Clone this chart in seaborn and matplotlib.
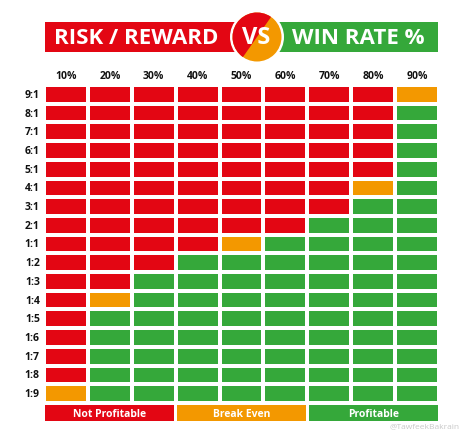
import numpy as np
import pandas as pd
import seaborn as sns
import matplotlib.pyplot as plt
from matplotlib.colors import ListedColormap
from matplotlib.patches import Rectangle, Circle, Wedge

# 0 = not profitable, 1 = break even, 2 = profitable
win_rates = ["10%", "20%", "30%", "40%", "50%", "60%", "70%", "80%", "90%"]
ratios = ["9:1", "8:1", "7:1", "6:1", "5:1", "4:1", "3:1", "2:1", "1:1",
          "1:2", "1:3", "1:4", "1:5", "1:6", "1:7", "1:8", "1:9"]
outcome = [
    [0, 0, 0, 0, 0, 0, 0, 0, 1],
    [0, 0, 0, 0, 0, 0, 0, 0, 2],
    [0, 0, 0, 0, 0, 0, 0, 0, 2],
    [0, 0, 0, 0, 0, 0, 0, 0, 2],
    [0, 0, 0, 0, 0, 0, 0, 0, 2],
    [0, 0, 0, 0, 0, 0, 0, 1, 2],
    [0, 0, 0, 0, 0, 0, 0, 2, 2],
    [0, 0, 0, 0, 0, 0, 2, 2, 2],
    [0, 0, 0, 0, 1, 2, 2, 2, 2],
    [0, 0, 0, 2, 2, 2, 2, 2, 2],
    [0, 0, 2, 2, 2, 2, 2, 2, 2],
    [0, 1, 2, 2, 2, 2, 2, 2, 2],
    [0, 2, 2, 2, 2, 2, 2, 2, 2],
    [0, 2, 2, 2, 2, 2, 2, 2, 2],
    [0, 2, 2, 2, 2, 2, 2, 2, 2],
    [0, 2, 2, 2, 2, 2, 2, 2, 2],
    [1, 2, 2, 2, 2, 2, 2, 2, 2],
]
legend_labels = ["Not Profitable", "Break Even", "Profitable"]

RED, ORANGE, GREEN = "#e30613", "#f39800", "#35a83a"
cmap = ListedColormap([RED, ORANGE, GREEN])

W, H = 464, 431
fig = plt.figure(figsize=(W / 100, H / 100), dpi=100)
fig.patch.set_facecolor("white")
font = "Open Sans"


def px_axes(x0, y0, x1, y1):
    return fig.add_axes([x0 / W, 1 - y1 / H, (x1 - x0) / W, (y1 - y0) / H])


# main grid
ax = px_axes(44, 86, 439, 404)
df = pd.DataFrame(outcome, index=ratios, columns=win_rates)
sns.heatmap(df, ax=ax, cmap=cmap, vmin=-0.5, vmax=2.5, cbar=False,
            linewidths=1.7, linecolor="white")
ax.xaxis.tick_top()
ax.tick_params(length=0, pad=3)
ax.set_xticklabels(win_rates, fontsize=7.5, fontweight="bold", family=font, color="#111111")
ax.set_yticklabels(ratios, rotation=0, fontsize=7.5, fontweight="bold", family=font, color="#111111")
ax.set_xlabel("")
ax.set_ylabel("")

# legend bar: three blocks, each spanning three columns
lax = px_axes(44, 405, 439, 423)
lax.set_xlim(0, 9)
lax.set_ylim(1, 0)
lax.axis("off")
for i, lab in enumerate(legend_labels):
    lax.add_patch(Rectangle((i * 3 + 0.03, 0.05), 2.94, 0.9, color=[RED, ORANGE, GREEN][i], lw=0))
    lax.text(i * 3 + 1.5, 0.52, lab, color="white", ha="center", va="center",
             fontsize=7.5, fontweight="bold", family=font)

# header
hax = fig.add_axes([0, 0, 1, 1], zorder=5)
hax.set_xlim(0, W)
hax.set_ylim(H, 0)
hax.axis("off")
hax.add_patch(Rectangle((45, 23), 190, 30, color=RED, lw=0))
hax.add_patch(Rectangle((278, 23), 160, 30, color=GREEN, lw=0))
hax.add_patch(Circle((257, 38), 27, facecolor="white", lw=0))
hax.add_patch(Circle((257, 38), 24.5, facecolor=ORANGE, lw=0))
hax.add_patch(Wedge((257, 38), 24.5, 125, 305, facecolor=RED, lw=0))
hax.text(136, 39, "RISK / REWARD", color="white", ha="center", va="center",
         fontsize=16, fontweight="bold", family=font)
hax.text(358, 39, "WIN RATE %", color="white", ha="center", va="center",
         fontsize=16, fontweight="bold", family=font)
hax.text(256, 38, "VS", color="white", ha="center", va="center",
         fontsize=17, fontweight="bold", family=font)

# watermark
hax.text(460, 427, "@TawfeekBakrain", color="#bbbbbb", alpha=0.8, ha="right", va="center",
         fontsize=6, family=font)

fig.savefig("out.png", dpi=100)
